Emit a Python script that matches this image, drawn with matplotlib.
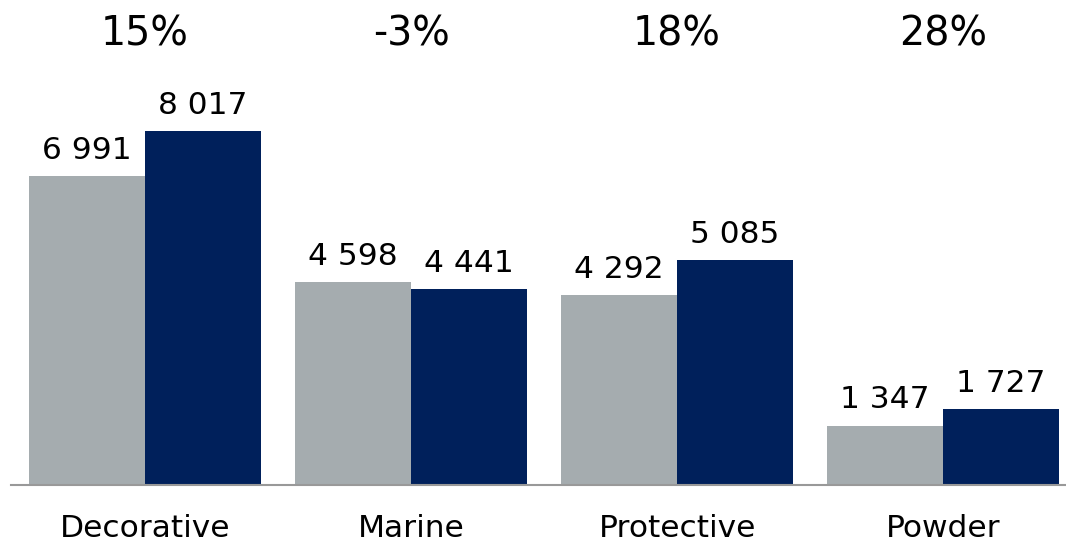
import matplotlib
matplotlib.use("Agg")
import matplotlib.pyplot as plt
import matplotlib.transforms as mtransforms
import numpy as np

categories = ["Decorative", "Marine", "Protective", "Powder"]
prev_values = [6991, 4598, 4292, 1347]
curr_values = [8017, 4441, 5085, 1727]
growth = ["15%", "-3%", "18%", "28%"]

GREY = "#a5acaf"
NAVY = "#00205b"


def fmt(v):
	return "{:,}".format(v).replace(",", " ")


fig = plt.figure(figsize=(10.66, 5.42), dpi=100)
ax = fig.add_axes([11 / 1066, 57 / 542, 1 - 11 / 1066, 1 - 57 / 542])

x = np.arange(len(categories))
w = 0.436
b1 = ax.bar(x - w / 2, prev_values, w, color=GREY, linewidth=0)
b2 = ax.bar(x + w / 2, curr_values, w, color=NAVY, linewidth=0)

for bars, vals in ((b1, prev_values), (b2, curr_values)):
	for bar, v in zip(bars, vals):
		ax.annotate(fmt(v), (bar.get_x() + bar.get_width() / 2, v),
			xytext=(0, 8), textcoords="offset points",
			ha="center", va="bottom", fontsize=22.5, color="black")

ax.set_xlim(-0.504, 3.462)
ax.set_ylim(0, 10983)

trans = mtransforms.blended_transform_factory(ax.transData, fig.transFigure)
for i, g in enumerate(growth):
	ax.text(x[i], 1 - 45 / 542, g, transform=trans, ha="center", va="baseline",
		fontsize=28.5, color="black", clip_on=False)
for i, c in enumerate(categories):
	ax.text(x[i], 1 - 537 / 542, c, transform=trans, ha="center", va="baseline",
		fontsize=22.5, color="black", clip_on=False)

for s in ("top", "right", "left"):
	ax.spines[s].set_visible(False)
ax.spines["bottom"].set_color("#999999")
ax.spines["bottom"].set_linewidth(1.5)
ax.set_xticks([])
ax.set_yticks([])

fig.savefig("out.png", dpi=100)
